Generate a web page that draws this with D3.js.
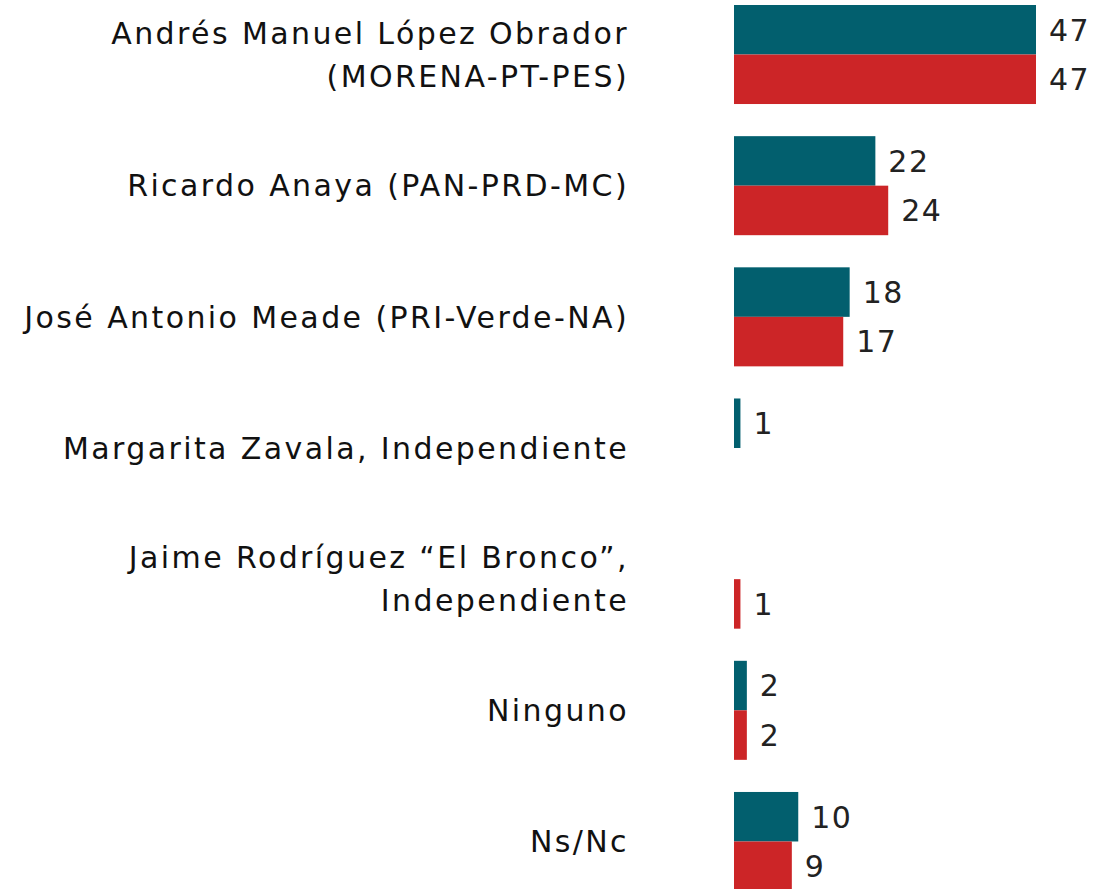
<!DOCTYPE html>
<html>
  <head>
    <meta charset="utf-8" />
    <title>Preferencia electoral</title>
    <script src="https://cdn.jsdelivr.net/npm/d3@7"></script>
    <style>
      body { margin: 0; background: #fff; }
    </style>
  </head>
  <body>
    <svg width="1094" height="889" id="mainsvg"></svg>
    <script>
      // datos
      const candidatos = [
        ["Andrés Manuel López Obrador", "(MORENA-PT-PES)"],
        ["Ricardo Anaya (PAN-PRD-MC)"],
        ["José Antonio Meade (PRI-Verde-NA)"],
        ["Margarita Zavala, Independiente"],
        ["Jaime Rodríguez “El Bronco”,", "Independiente"],
        ["Ninguno"],
        ["Ns/Nc"]
      ];
      const series = ["serie1", "serie2"];
      const valoresSerie1 = [47, 22, 18, 1, null, 2, 10];
      const valoresSerie2 = [47, 24, 17, null, 1, 2, 9];
      const colores = ["#025f6e", "#cc2527"];

      const svg = d3.select("#mainsvg");
      const font = "'DejaVu Sans', sans-serif";

      const keys = candidatos.map((c) => c.join(" "));
      const y = d3.scaleBand().domain(keys).range([5, 891]).paddingInner(0.245);
      const y1 = d3.scaleBand().domain(series).range([0, y.bandwidth()]);
      const x = d3.scaleLinear().domain([0, 47]).range([734, 1036]);

      const rows = keys.map((k, i) => ({
        key: k,
        lines: candidatos[i],
        vals: [valoresSerie1[i], valoresSerie2[i]]
      }));

      const g = svg.selectAll(".grupo").data(rows).join("g")
        .attr("class", "grupo")
        .attr("transform", (d) => `translate(0,${y(d.key)})`);

      const bars = g.selectAll(".barra")
        .data((d) => d.vals.map((v, j) => ({ v, s: series[j], j })).filter((b) => b.v != null))
        .join("g").attr("class", "barra");

      bars.append("rect")
        .attr("x", x(0))
        .attr("y", (b) => y1(b.s))
        .attr("width", (b) => x(b.v) - x(0))
        .attr("height", y1.bandwidth())
        .attr("fill", (b) => colores[b.j]);

      bars.append("text")
        .attr("x", (b) => x(b.v) + 13)
        .attr("y", (b) => y1(b.s) + y1.bandwidth() / 2)
        .attr("dy", "0.36em")
        .attr("font-family", font)
        .attr("font-size", 30)
        .attr("letter-spacing", 1.5)
        .attr("fill", "#222")
        .text((b) => b.v);

      // nombres
      const lh = 43;
      g.append("text")
        .attr("text-anchor", "end")
        .attr("font-family", font)
        .attr("font-size", 30)
        .attr("letter-spacing", 2.4)
        .attr("fill", "#111")
        .selectAll("tspan")
        .data((d) => d.lines.map((t, i) => ({ t, i, n: d.lines.length })))
        .join("tspan")
        .attr("x", 629)
        .attr("y", (l) => y.bandwidth() / 2 + (l.i - (l.n - 1) / 2) * lh)
        .attr("dy", "0.36em")
        .text((l) => l.t);
    </script>
  </body>
</html>
